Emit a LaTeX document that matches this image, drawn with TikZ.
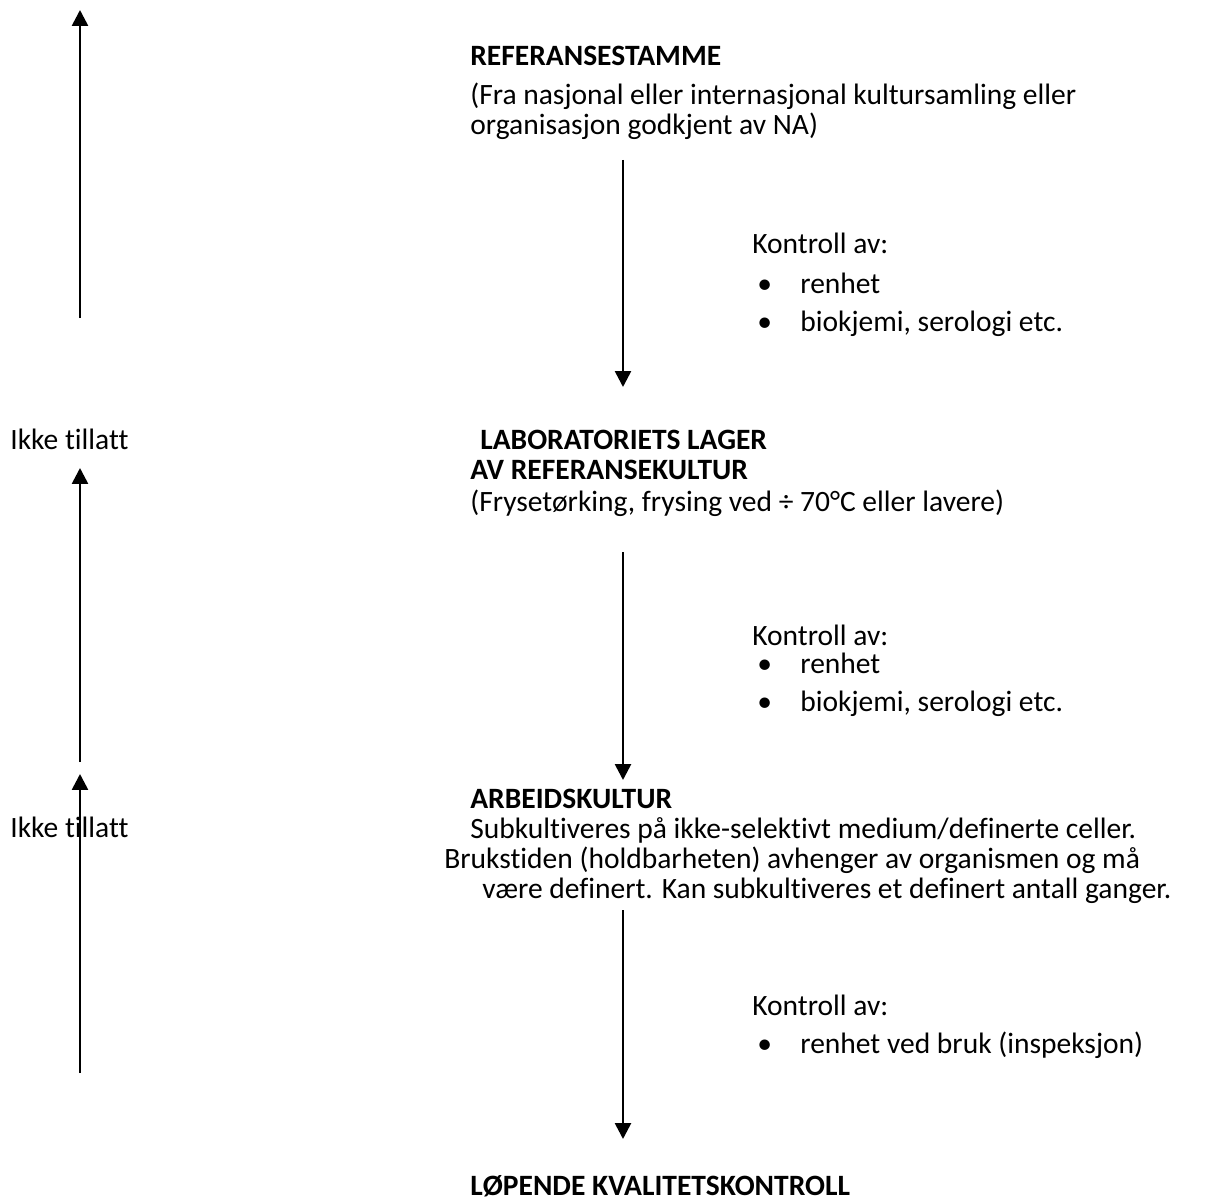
\documentclass[tikz,border=0pt]{standalone}
\usepackage{fontspec}
\setmainfont{Carlito}[Ligatures=NoCommon]
\usepackage{tikz}
\usetikzlibrary{arrows.meta,positioning}

\begin{document}
\begin{tikzpicture}[
  x=0.02cm, y=-0.02cm,
  font=\fontsize{16.8}{20}\selectfont, >={Triangle[length=9pt,width=9pt]},
  txt/.style={anchor=base west, inner sep=0pt},
  head/.style={txt, font=\fontsize{16.8}{20}\selectfont\bfseries},
  flow/.style={->, line width=1.5pt}]
  \useasboundingbox (0,0) rectangle (1215,1203);

  % top level
  \node[head] (ref) at (470,66) {REFERANSESTAMME};
  \node[txt] (refa) at (470,105) {(Fra nasjonal eller internasjonal kultursamling eller};
  \node[txt] (refb) at (470,135) {organisasjon godkjent av NA)};
  \node[txt] (k1) at (752,254) {Kontroll av:};
  \node[txt] (k1a) at (757,294) {\makebox[0.86cm][l]{\textbullet}renhet};
  \node[txt] (k1b) at (757,332) {\makebox[0.86cm][l]{\textbullet}biokjemi, serologi etc.};

  % laboratoriets lager
  \node[txt] (no1) at (10,449) {Ikke tillatt};
  \node[head] (lab) at (480,449) {LABORATORIETS LAGER};
  \node[head] (laba) at (470,479) {AV REFERANSEKULTUR};
  \node[txt] (labb) at (470,511) {(Frysetørking, frysing ved ÷ 70°C eller lavere)};
  \node[txt] (k2) at (752,645) {Kontroll av:};
  \node[txt] (k2a) at (757,673) {\makebox[0.86cm][l]{\textbullet}renhet};
  \node[txt] (k2b) at (757,711) {\makebox[0.86cm][l]{\textbullet}biokjemi, serologi etc.};

  % arbeidskultur
  \node[head] (arb) at (470,808) {ARBEIDSKULTUR};
  \node[txt] (arba) at (470,838) {Subkultiveres på ikke-selektivt medium/definerte celler.};
  \node[txt] (no2) at (10,837) {Ikke tillatt};
  \node[txt] (arbb) at (444,868) {Brukstiden (holdbarheten) avhenger av organismen og må};
  \node[txt] (arbc) at (482,898) {være definert. Kan subkultiveres et definert antall ganger.};
  \node[txt] (k3) at (752,1015) {Kontroll av:};
  \node[txt] (k3a) at (757,1053) {\makebox[0.86cm][l]{\textbullet}renhet ved bruk (inspeksjon)};

  % bottom
  \node[head] (lkk) at (470,1195) {LØPENDE KVALITETSKONTROLL};

  % arrow ends
  \coordinate (d1s) at (623,160);  \coordinate (d1e) at (623,387);
  \coordinate (d2s) at (623,552);  \coordinate (d2e) at (623,780);
  \coordinate (d3s) at (623,910);  \coordinate (d3e) at (623,1139);
  \coordinate (u1s) at (80,318);   \coordinate (u1e) at (80,10);
  \coordinate (u2s) at (80,762);   \coordinate (u2e) at (80,468);
  \coordinate (u3s) at (80,1073);  \coordinate (u3e) at (80,774);

  \foreach \i in {1,2,3} {
    \draw[flow] (d\i s) -- (d\i e);
    \draw[flow] (u\i s) -- (u\i e);
  }
\end{tikzpicture}
\end{document}
